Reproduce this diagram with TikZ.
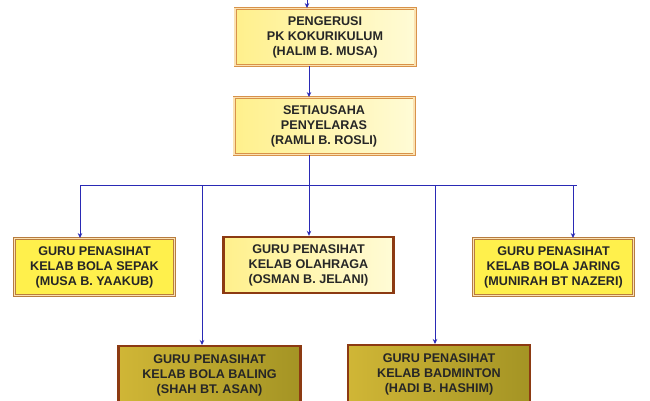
\documentclass[tikz,border=0pt]{standalone}
\usepackage{fontspec}
\setmainfont{Liberation Sans}
\usepackage{tikz}
\usetikzlibrary{arrows.meta,positioning,calc}
\definecolor{linkblue}{HTML}{2A2AB5}
\definecolor{tanline}{HTML}{D8924A}
\definecolor{tanpale}{HTML}{FBE2B2}
\definecolor{paleyel}{HTML}{FFF08C}
\definecolor{creamyel}{HTML}{FFFBD6}
\definecolor{brightyel}{HTML}{FFF04C}
\definecolor{rustbrown}{HTML}{8C3A12}
\definecolor{olivegold}{HTML}{D0B636}
\definecolor{olivedark}{HTML}{A49424}
\definecolor{goldlight}{HTML}{F7EB72}

\begin{document}
\begin{tikzpicture}[
  x=1pt,y=-1pt,
  box/.style={align=center,font=\fontsize{12.6}{15}\selectfont\bfseries,
              inner sep=0pt,text=black!85},
  head/.style={box,draw=tanline,double=tanpale,line width=0.9pt,double distance=1.2pt,
               left color=paleyel,right color=creamyel,
               minimum width=180pt,minimum height=57pt},
  club/.style={box,draw=tanline!85!black,double=tanpale,line width=0.9pt,double distance=1.2pt,
               fill=brightyel,minimum width=160pt,minimum height=57pt},
  clubb/.style={box,draw=rustbrown,line width=2.4pt,
               left color=paleyel,right color=creamyel,
               minimum width=170pt,minimum height=56pt},
  clubc/.style={box,draw=rustbrown,line width=2.4pt,anchor=north,
               left color=olivegold,middle color=goldlight,right color=olivedark,
               minimum width=182pt,minimum height=58pt},
  link/.style={draw=linkblue,line width=0.8pt,-{Stealth[length=5pt,width=4.5pt]}},
  bus/.style={draw=linkblue,line width=0.8pt},
]
  \useasboundingbox (0,0) rectangle (650,400);
  \clip (0,0) rectangle (650,400);

  \node[head]  (pk)     at (325,37)  {PENGERUSI\\PK KOKURIKULUM\\(HALIM B. MUSA)};
  \node[head]  (sua)    at (324,126) {SETIAUSAHA\\PENYELARAS\\(RAMLI B. ROSLI)};

  \node[club]  (sepak)  at (94.5,267)  {GURU PENASIHAT\\KELAB BOLA SEPAK\\(MUSA B. YAAKUB)};
  \node[clubb] (olah)   at (308.5,265) {GURU PENASIHAT\\KELAB OLAHRAGA\\(OSMAN B. JELANI)};
  \node[club]  (jaring) at (553.5,267) {GURU PENASIHAT\\KELAB BOLA JARING\\(MUNIRAH BT NAZERI)};
  \node[clubc] (baling) at (209.5,345) {GURU PENASIHAT\\KELAB BOLA BALING\\(SHAH BT. ASAN)};
  \node[clubc] (badm)   at (439,344)   {GURU PENASIHAT\\KELAB BADMINTON\\(HADI B. HASHIM)};

  \coordinate (top)   at (307,0);
  \coordinate (spine) at (309,185);
  \coordinate (busL)  at (80,185);
  \coordinate (busR)  at (577,185);
  \coordinate (dropJ) at (573,185);
  \coordinate (dropB) at (202,185);
  \coordinate (dropD) at (435,185);

  \draw[link] (top) -- (top |- pk.north);
  \draw[link] (pk.south -| spine) -- (sua.north -| spine);
  \draw[bus]  (sua.south -| spine) -- (spine);
  \draw[bus]  (busL) -- (busR);
  \draw[link] (busL) -- (sepak.north -| busL);
  \draw[link] (spine) -- (olah.north -| spine);
  \draw[link] (dropJ) -- (jaring.north -| dropJ);
  \draw[link] (dropB) -- (baling.north -| dropB);
  \draw[link] (dropD) -- (badm.north -| dropD);
\end{tikzpicture}
\end{document}
